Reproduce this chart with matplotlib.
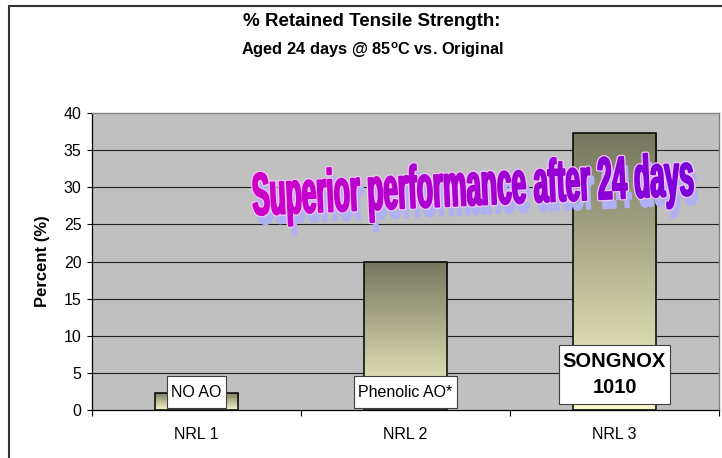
import numpy as np
import matplotlib
matplotlib.use("Agg")
import matplotlib.pyplot as plt
from matplotlib.patheffects import AbstractPathEffect
from matplotlib.transforms import Affine2D
from matplotlib.path import Path
from matplotlib.colors import LinearSegmentedColormap, to_rgb
from matplotlib.patches import Rectangle

# ---- data ----
categories = ["NRL 1", "NRL 2", "NRL 3"]
values = [2.3, 20.0, 37.3]
bar_labels = ["NO AO", "Phenolic AO*", "SONGNOX\n1010"]
yticks = [0, 5, 10, 15, 20, 25, 30, 35, 40]
title_main = "% Retained Tensile Strength:"
title_sub = "Aged 24 days @ 85$^{\\mathrm{o}}$C vs. Original"
ylabel = "Percent (%)"
banner = "Superior performance after 24 days"

plt.rcParams['font.family'] = ['Liberation Sans', 'DejaVu Sans']
plt.rcParams['mathtext.fontset'] = 'custom'
plt.rcParams['mathtext.rm'] = 'Liberation Sans:bold'
plt.rcParams['mathtext.bf'] = 'Liberation Sans:bold'


class WordArt(AbstractPathEffect):
    def __init__(self, sx, sy, c_left, c_right, shadow, shadow_off, outline, outline_lw, fill_lw):
        super().__init__()
        self.sx, self.sy = sx, sy
        self.cl = np.array(to_rgb(c_left))
        self.cr = np.array(to_rgb(c_right))
        self.shadow = to_rgb(shadow)
        self.off = shadow_off
        self.outline = to_rgb(outline)
        self.olw = outline_lw
        self.flw = fill_lw

    def draw_path(self, renderer, gc, tpath, affine, rgbFace=None):
        aff = Affine2D().scale(self.sx, self.sy) + affine
        # shadow
        g0 = renderer.new_gc(); g0.copy_properties(gc)
        g0.set_foreground(self.shadow); g0.set_linewidth(self.flw)
        renderer.draw_path(g0, tpath, aff + Affine2D().translate(*self.off), self.shadow)
        g0.restore()
        # outline
        g1 = renderer.new_gc(); g1.copy_properties(gc)
        g1.set_foreground(self.outline); g1.set_linewidth(self.olw)
        renderer.draw_path(g1, tpath, aff, self.outline)
        g1.restore()
        # gradient fill by glyph cluster
        verts, codes = tpath.vertices, tpath.codes
        if codes is None:
            renderer.draw_path(gc, tpath, aff, tuple(self.cl))
            return
        starts = list(np.where(codes == Path.MOVETO)[0]) + [len(codes)]
        groups = []
        for s, e in zip(starts[:-1], starts[1:]):
            v = verts[s:e]; c = codes[s:e]
            bb = [v[:, 0].min(), v[:, 1].min(), v[:, 0].max(), v[:, 1].max()]
            merged = False
            for g in groups[-4:]:
                gb = g[0]
                ins = bb[0] >= gb[0] and bb[1] >= gb[1] and bb[2] <= gb[2] and bb[3] <= gb[3]
                cont = gb[0] >= bb[0] and gb[1] >= bb[1] and gb[2] <= bb[2] and gb[3] <= bb[3]
                if ins or cont:
                    g[0] = [min(gb[0], bb[0]), min(gb[1], bb[1]), max(gb[2], bb[2]), max(gb[3], bb[3])]
                    g[1].append(v); g[2].append(c)
                    merged = True
                    break
            if not merged:
                groups.append([bb, [v], [c]])
        xmin = verts[:, 0].min(); xmax = verts[:, 0].max()
        for bb, vs, cs in groups:
            t = ((bb[0] + bb[2]) / 2 - xmin) / (xmax - xmin)
            col = tuple((1 - t) * self.cl + t * self.cr)
            p = Path(np.concatenate(vs), np.concatenate(cs))
            g2 = renderer.new_gc(); g2.copy_properties(gc)
            g2.set_foreground(col); g2.set_linewidth(self.flw)
            renderer.draw_path(g2, p, aff, col)
            g2.restore()


W, H = 722, 458
fig = plt.figure(figsize=(W / 100, H / 100), dpi=100)
fig.patch.set_facecolor('white')

# outer chart border (cropped on right/bottom)
fig.patches.append(Rectangle((9 / W, -0.2), 1.2, 1 - 6 / H + 0.2, transform=fig.transFigure,
                             fill=False, edgecolor='#333333', lw=1.5, zorder=0))

ax = fig.add_axes([92 / W, 48 / H, 627 / W, 297 / H])
ax.set_facecolor('#C0C0C0')

x = np.arange(len(categories))
width = 0.40
grad = np.linspace(0, 1, 256).reshape(-1, 1)
cmap = LinearSegmentedColormap.from_list('g', ['#F8F8CA', '#76765E'])
for xi, v in zip(x, values):
    bar = ax.bar(xi, v, width, facecolor='none', edgecolor='black', lw=1.1, zorder=3)[0]
    im = ax.imshow(grad, extent=[xi - width / 2, xi + width / 2, 0, v], origin='lower',
                   aspect='auto', cmap=cmap, zorder=2.5)
    im.set_clip_path(bar)

ax.set_xlim(-0.5, 2.5)
ax.set_ylim(0, 40)
ax.set_aspect('auto')

for yv in yticks[1:-1]:
    ax.axhline(yv, color='#202020', lw=0.8, zorder=1)

ax.set_yticks(yticks)
ax.set_yticklabels([str(t) for t in yticks], fontsize=11.5)
ax.tick_params(axis='y', direction='out', length=3.6, width=0.8, pad=4)
ax.set_xticks([-0.5, 0.5, 1.5, 2.5])
ax.set_xticklabels([''] * 4)
ax.set_xticks(x, minor=True)
ax.set_xticklabels(categories, minor=True, fontsize=11.5)
ax.tick_params(axis='x', which='major', direction='out', length=4, width=0.8)
ax.tick_params(axis='x', which='minor', length=0, pad=12)

for side in ['left', 'bottom']:
    ax.spines[side].set_color('black'); ax.spines[side].set_linewidth(0.9)
for side in ['top', 'right']:
    ax.spines[side].set_color('#808080'); ax.spines[side].set_linewidth(1.0)

# bar annotation boxes
ax.text(0, 2.42, bar_labels[0], ha='center', va='center', fontsize=11.5, zorder=5,
        bbox=dict(boxstyle='square,pad=0.28', fc='white', ec='#404040', lw=0.8,
                  mutation_aspect=1.9))
ax.text(1, 2.42, bar_labels[1], ha='center', va='center', fontsize=11.5, zorder=5,
        bbox=dict(boxstyle='square,pad=0.25', fc='white', ec='#404040', lw=0.8,
                  mutation_aspect=2.1))
ax.text(2, 4.78, bar_labels[2], ha='center', va='center', fontsize=14.5, fontweight='bold',
        linespacing=1.45, zorder=5,
        bbox=dict(boxstyle='square,pad=0.2', fc='white', ec='#404040', lw=0.8,
                  mutation_aspect=1.8))

# titles
fig.text(372 / W, 1 - 22 / H, title_main, ha='center', va='center', fontsize=13.5, fontweight='bold')
fig.text(372 / W, 1 - 50 / H, title_sub, ha='center', va='center', fontsize=11.8, fontweight='bold')
fig.text(42 / W, 1 - 261 / H, ylabel, ha='center', va='center', rotation=90, fontsize=12,
         fontweight='bold')

# word-art banner
fig.text(253 / W, 1 - 215 / H, banner, ha='left', va='baseline', fontsize=18.9,
         fontweight='bold', rotation=2.6, rotation_mode='anchor', zorder=10,
         path_effects=[WordArt(1.0, 2.28, '#D000C8', '#7A00D8', '#B0B0F4', (4, -9),
                               '#F0C8F8', 3.2, 1.4)])

fig.savefig('out.png', dpi=100)
